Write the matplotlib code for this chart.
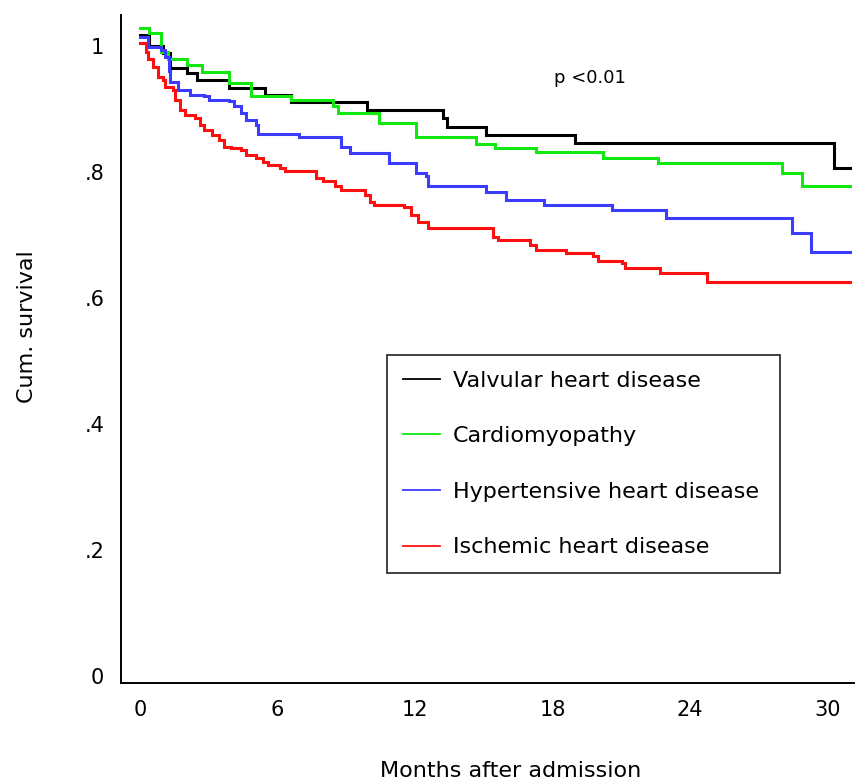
import numpy as np
import matplotlib
matplotlib.use("Agg")
import matplotlib.pyplot as plt
from matplotlib.lines import Line2D

# Kaplan-Meier estimates per group: step times (months) and cumulative survival
groups = ['Valvular heart disease', 'Cardiomyopathy',
          'Hypertensive heart disease', 'Ischemic heart disease']
colors = ['#000000', '#10e810', '#3c3cff', '#ff1010']

t_valv = [0, 0.4, 1.0, 1.31, 2.05, 2.5, 3.9, 5.46, 6.6, 9.9, 13.2, 13.4, 15.1, 19.0, 30.3]
s_valv = [1.017, 1.0, 0.989, 0.965, 0.957, 0.946, 0.933, 0.922, 0.911, 0.898, 0.885,
          0.871, 0.859, 0.846, 0.806]

t_card = [0, 0.4, 0.9, 1.22, 2.07, 2.7, 3.87, 4.83, 6.6, 8.43, 8.65, 10.45, 12.03,
          14.67, 15.5, 17.3, 20.2, 22.6, 28.0, 28.9]
s_card = [1.028, 1.02, 0.99, 0.98, 0.97, 0.959, 0.941, 0.92, 0.914, 0.904, 0.893,
          0.877, 0.856, 0.845, 0.838, 0.832, 0.822, 0.814, 0.798, 0.777]

t_hyp = [0, 0.37, 0.9, 1.11, 1.25, 1.33, 1.65, 2.17, 2.81, 3.02, 3.87, 4.08, 4.4, 4.61,
         5.04, 5.14, 6.94, 8.75, 9.17, 10.87, 12.03, 12.46, 12.56, 15.1, 15.95, 17.65,
         20.6, 22.95, 28.46, 29.3]
s_hyp = [1.015, 0.999, 0.994, 0.983, 0.96, 0.943, 0.93, 0.922, 0.92, 0.914, 0.912,
         0.904, 0.893, 0.883, 0.875, 0.861, 0.856, 0.84, 0.83, 0.814, 0.798, 0.793,
         0.777, 0.769, 0.756, 0.748, 0.74, 0.727, 0.703, 0.673]

t_isch = [0, 0.27, 0.37, 0.58, 0.8, 1.01, 1.11, 1.43, 1.54, 1.75, 1.96, 2.39, 2.6, 2.81,
          3.13, 3.45, 3.66, 3.97, 4.4, 4.61, 5.04, 5.35, 5.57, 6.1, 6.31, 7.48, 7.69,
          8.0, 8.53, 8.75, 9.49, 9.81, 10.02, 10.23, 11.5, 11.82, 12.14, 12.56, 15.1,
          15.42, 15.63, 16.8, 17.0, 17.3, 18.6, 19.77, 19.98, 21.04, 21.15, 22.5, 22.7,
          24.65, 24.75]
s_isch = [1.004, 0.991, 0.98, 0.967, 0.951, 0.946, 0.935, 0.93, 0.914, 0.898, 0.89,
          0.885, 0.875, 0.867, 0.859, 0.851, 0.84, 0.838, 0.835, 0.827, 0.822, 0.816,
          0.811, 0.806, 0.801, 0.801, 0.79, 0.785, 0.777, 0.771, 0.771, 0.763, 0.753,
          0.748, 0.745, 0.732, 0.721, 0.711, 0.711, 0.697, 0.692, 0.692, 0.684, 0.676,
          0.671, 0.666, 0.658, 0.655, 0.647, 0.647, 0.639, 0.639, 0.626]

t_end = 31.0
times = [t_valv, t_card, t_hyp, t_isch]
surv = [s_valv, s_card, s_hyp, s_isch]

month_ticks = [0, 6, 12, 18, 24, 30]
surv_ticks = [0, 0.2, 0.4, 0.6, 0.8, 1.0]
surv_labels = ['0', '.2', '.4', '.6', '.8', '1']

plt.rcParams['font.family'] = ['DejaVu Sans']
fs = 16      # legend / axis titles
fs_tick = 15

fig = plt.figure(figsize=(8.55, 7.83), dpi=100)
ax = fig.add_axes([0.1415, 0.1277, 0.8585, 0.853])

for t, s, c in zip(times, surv, colors):
    tt = list(t) + [t_end]
    ss = list(s) + [s[-1]]
    ax.step(tt, ss, where='post', color=c, lw=2.2, solid_joinstyle='miter')

ax.set_xlim(-0.83, 31.2)
ax.set_ylim(-0.011, 1.049)

ax.spines['top'].set_visible(False)
ax.spines['right'].set_visible(False)
ax.spines['left'].set_linewidth(1.4)
ax.spines['bottom'].set_linewidth(1.4)

ax.set_xticks(month_ticks)
ax.set_xticklabels([str(m) for m in month_ticks], fontsize=fs_tick)
ax.set_yticks(surv_ticks)
ax.set_yticklabels(surv_labels, fontsize=fs_tick)
ax.tick_params(axis='both', length=0)
ax.tick_params(axis='x', pad=12)
ax.tick_params(axis='y', pad=12)

ax.text(19.65, 0.949, 'p <0.01', fontsize=13, ha='center', va='center')

fig.text(27 / 855, 1 - 327 / 783, 'Cum. survival', rotation=90,
         fontsize=fs, ha='center', va='center')
fig.text(511 / 855, 1 - 771 / 783, 'Months after admission',
         fontsize=fs, ha='center', va='center')

handles = [Line2D([0], [0], color=c, lw=1.3) for c in colors]
leg = ax.legend(handles, groups, loc='upper left',
                bbox_to_anchor=(0.3624, 0.166, 0.5354, 0.325), mode='expand',
                fontsize=fs, frameon=True, fancybox=False, handlelength=1.7,
                handletextpad=0.55, labelspacing=1.6, borderpad=0.7,
                borderaxespad=0)
leg.get_frame().set_edgecolor('black')
leg.get_frame().set_linewidth(1.3)

plt.savefig('out.png', dpi=100)
